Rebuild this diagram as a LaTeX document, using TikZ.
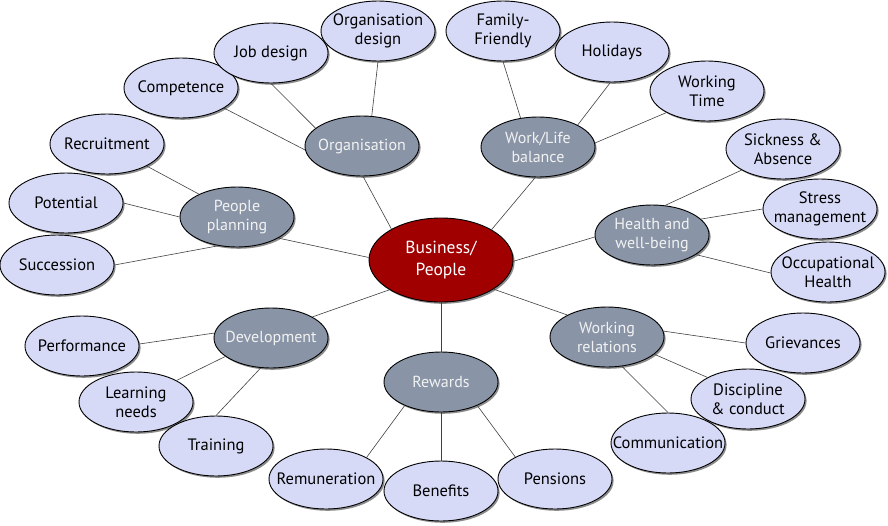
\documentclass[tikz,border=0pt]{standalone}
\usepackage{fontspec}
\setmainfont{PT Sans}
\usetikzlibrary{shapes.geometric,shadows}
\definecolor{lightfill}{RGB}{214,218,246}
\definecolor{grayfill}{RGB}{137,149,167}
\definecolor{redfill}{RGB}{160,0,0}
\begin{document}
\begin{tikzpicture}[x=1pt,y=-1pt,
  base/.style={ellipse, draw=black, line width=0.9pt, inner sep=0pt,
    minimum width=114pt, minimum height=60pt,
    drop shadow={shadow xshift=1.6pt, shadow yshift=-1.8pt, fill=black, opacity=0.45}},
  ltext/.style={align=center, inner sep=0pt, text=black, font=\fontsize{16.5}{19}\selectfont},
  htext/.style={align=center, inner sep=0pt, text=black!5, font=\fontsize{16}{19}\selectfont},
  ctext/.style={align=center, inner sep=0pt, text=white, font=\fontsize{17.5}{22}\selectfont},
  leaf/.style={base, fill=lightfill, label={[ltext]center:#1}},
  hub/.style={base, fill=grayfill, label={[htext]center:#1}},
  core/.style={base, fill=redfill, minimum width=144pt, minimum height=84pt,
    label={[ctext]center:#1}},
  link/.style={draw=black!75, line width=0.6pt}]
\useasboundingbox (0,0) rectangle (888,525);
% center
\node[core={Business/\\People}] (bp) at (441,260) {};
% hubs
\node[hub={Organisation}] (org) at (362,146) {};
\node[hub={Work/Life\\balance}] (wlb) at (538,147) {};
\node[hub={People\\planning}] (pp) at (237,217) {};
\node[hub={Health and\\well-being}] (hw) at (652,235) {};
\node[hub={Development}] (dev) at (271,338) {};
\node[hub={Rewards}] (rew) at (441,382) {};
\node[hub={Working\\relations}] (wr) at (607,337) {};
% leaves
\node[leaf={Competence}] (comp) at (181,88) {};
\node[leaf={Job design}] (job) at (271,53) {};
\node[leaf={Organisation\\design}] (orgd) at (378,31) {};
\node[leaf={Family-\\Friendly}] (fam) at (503,31) {};
\node[leaf={Holidays}] (hol) at (612,52) {};
\node[leaf={Working\\Time}] (wt) at (707,91) {};
\node[leaf={Recruitment}] (rec) at (107,144) {};
\node[leaf={Potential}] (pot) at (66,203) {};
\node[leaf={Succession}] (suc) at (57,265) {};
\node[leaf={Sickness \&\\Absence}] (sick) at (783,149) {};
\node[leaf={Stress\\management}] (str) at (820,209) {};
\node[leaf={Occupational\\Health}] (occ) at (828,272) {};
\node[leaf={Performance}] (perf) at (82,346) {};
\node[leaf={Learning\\needs}] (learn) at (136,402) {};
\node[leaf={Training}] (train) at (216,446) {};
\node[leaf={Remuneration}] (rem) at (326,479) {};
\node[leaf={Benefits}] (ben) at (441,491) {};
\node[leaf={Pensions}] (pen) at (555,479) {};
\node[leaf={Grievances}] (gri) at (803,343) {};
\node[leaf={Discipline\\\& conduct}] (dis) at (748,399) {};
\node[leaf={Communication}] (com) at (668,443) {};
% connectors: centre to hubs
\draw[link] (bp.148) -- (org.-88);
\draw[link] (bp.31.6) -- (wlb.-95);
\draw[link] (bp.178) -- (pp.-27.5);
\draw[link] (bp.-1.6) -- (hw.182);
\draw[link] (bp.210) -- (dev.27.6);
\draw[link] (bp.south) -- (rew.north);
\draw[link] (bp.-29.6) -- (wr.151);
% Organisation
\draw[link] (org.184) -- (comp.-25.5);
\draw[link] (org.159) -- (job.south);
\draw[link] (org.72.8) -- (orgd.south);
% Work/Life balance
\draw[link] (wlb.121.8) -- (fam.south);
\draw[link] (wlb.29.7) -- (hol.-93.5);
\draw[link] (wlb.4) -- (wt.208);
% People planning
\draw[link] (pp.149) -- (rec.-29);
\draw[link] (pp.180) -- (pot.east);
\draw[link] (pp.237) -- (suc.east);
% Health and well-being
\draw[link] (hw.66.6) -- (sick.207);
\draw[link] (hw.18.4) -- (str.west);
\draw[link] (hw.-24.7) -- (occ.181);
% Development
\draw[link] (dev.175) -- (perf.2);
\draw[link] (dev.202) -- (learn.28.7);
\draw[link] (dev.251) -- (train.north);
% Rewards
\draw[link] (rew.213) -- (rem.28);
\draw[link] (rew.south) -- (ben.north);
\draw[link] (rew.-33) -- (pen.151);
% Working relations
\draw[link] (wr.6) -- (gri.west);
\draw[link] (wr.-20.4) -- (dis.152);
\draw[link] (wr.-63.4) -- (com.north);
\end{tikzpicture}
\end{document}
